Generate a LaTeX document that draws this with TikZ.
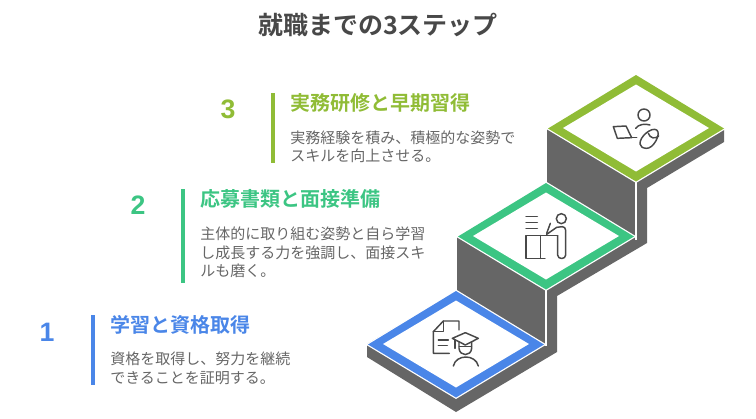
\documentclass[tikz,border=0pt]{standalone}
\usepackage{fontspec}
\setmainfont[BoldFont={Noto Sans CJK JP Bold}]{Noto Sans CJK JP}
\newfontfamily\numfont[BoldFont={Liberation Sans Bold}]{Liberation Sans}
\usepackage{xcolor}
\usetikzlibrary{positioning}

\definecolor{stepblue}{HTML}{4A86E8}
\definecolor{stepgreen}{HTML}{3CC583}
\definecolor{steplime}{HTML}{90BC36}
\definecolor{blockgray}{HTML}{666666}
\definecolor{inkgray}{HTML}{484848}
\definecolor{bodygray}{HTML}{666666}

\begin{document}
\begin{tikzpicture}[x=0.75pt,y=-0.75pt]

\tikzset{headtext/.style={anchor=west, inner sep=0pt, font=\bfseries\fontsize{15}{18}\selectfont},
bodytext/.style={anchor=north west, inner sep=0pt, align=left, text=bodygray, font=\fontsize{11.25}{13.9}\selectfont},
numtext/.style={inner sep=0pt, font=\numfont\bfseries\fontsize{20}{22}\selectfont},
icon/.style={draw=inkgray, line width=1.1pt, line cap=round, line join=round}}

\useasboundingbox (0,0) rectangle (756,418);

\node[inner sep=0pt, text=inkgray, font=\bfseries\fontsize{18.75}{22}\selectfont] (title) at (378,25) {就職までの3ステップ};

%the gray block
\fill[blockgray] (547,129) -- (636,75) -- (724,129) -- (724,142) -- (647,188) -- (647,243) -- (557,296) -- (557,352) -- (456,412) -- (367,357) -- (367,344) -- (457,290) -- (457,237) -- (547,183) -- cycle;

\draw[white, line width=1.1pt] (636,181) -- (636,240);
\draw[white, line width=1.1pt] (546,288) -- (546,346);

%the three plates
\foreach \x/\y/\c in {636/128/steplime, 546/236/stepgreen, 456/344/stepblue} {
  \draw[white, line width=1.9pt, line join=miter] (\x-88,\y+0.5) -- (\x,\y-53) -- (\x+88,\y+0.5) -- (\x,\y+53.5) -- cycle;
  \fill[\c] (\x-88,\y+0.5) -- (\x,\y-53) -- (\x+88,\y+0.5) -- (\x,\y+53.5) -- cycle;
  \fill[white] (\x-73,\y) -- (\x,\y-43.5) -- (\x+73,\y) -- (\x,\y+43.5) -- cycle;
}

%labels, the numbers and the bars
\foreach \n/\d/\x/\y/\c/\bx/\by/\be in {one/1/47/332/stepblue/93/315/385, two/2/138/205/stepgreen/183/189/283, three/3/228/109/steplime/273/93/163} {
  \node[numtext, text=\c] (num\n) at (\x,\y) {\d};
  \draw[\c, line width=3pt] (\bx,\by) -- (\bx,\be);
}

\node[headtext, text=stepblue] (headone) at (110,325) {学習と資格取得};
\node[bodytext, below=13pt of headone.south west, anchor=north west] (bodyone) {資格を取得し、努力を継続\\できることを証明する。};

\node[headtext, text=stepgreen] (headtwo) at (200,199) {応募書類と面接準備};
\node[bodytext, below=13.6pt of headtwo.south west, anchor=north west] (bodytwo) {主体的に取り組む姿勢と自ら学習\\し成長する力を強調し、面接スキ\\ルも磨く。};

\node[headtext, text=steplime] (headthree) at (290,103) {実務研修と早期習得};
\node[bodytext, below=13pt of headthree.south west, anchor=north west] (bodythree) {実務経験を積み、積極的な姿勢で\\スキルを向上させる。};

%icon on the lowest plate
\begin{scope}[shift={(360,285)},x=0.25pt,y=-0.25pt]
  \draw[icon] (297,135) -- (297,108) -- (250,108) -- (220,140) -- (220,205) -- (268,205);
  \draw[icon] (250,108) -- (250,140) -- (220,140);
  \draw[icon] (235,165) -- (265,165);
  \draw[icon] (235,182) -- (262,182);
  \draw[icon] (277,160) -- (316,143) -- (355,160) -- (316,180) -- cycle;
  \draw[icon] (285,165) -- (285,190);
  \draw[icon] (297,170) -- (297,190) .. controls (299,215) and (333,215) .. (335,190) -- (335,170);
  \draw[icon] (298,185) -- (334,185);
  \draw[icon] (280,243) .. controls (288,207) and (347,207) .. (355,243);
\end{scope}

%icon on the middle plate
\begin{scope}[shift={(450,175)},x=0.25pt,y=-0.25pt]
  \draw[icon] (228,125) -- (262,125);
  \draw[icon] (228,143) -- (262,143);
  \draw[icon] (228,160) -- (262,160);
  \draw[icon] (285,250) -- (228,250) -- (228,182) -- (323,182);
  \draw[icon] (272,182) -- (272,250);
  \draw[icon] (334,131) circle [radius=15];
  \draw[icon] (290,175) -- (301,145);
  \draw[icon] (290,178) -- (320,157) -- (337,155) .. controls (343,155) and (347,160) .. (347,166) -- (347,240) .. controls (347,254) and (323,254) .. (323,240) -- (323,182);
\end{scope}

%icon on the top plate
\begin{scope}[shift={(540,70)},x=0.25pt,y=-0.25pt]
  \draw[icon] (312,135) circle [radius=18];
  \draw[icon] (287,175) .. controls (295,163) and (315,160) .. (330,165);
  \draw[icon] (220,170) -- (258,168) -- (275,203) -- (232,205) -- cycle;
  \draw[icon] (275,203) -- (290,203);
  \draw[icon] (300,222) .. controls (298,200) and (335,170) .. (350,180) .. controls (365,190) and (340,238) .. (318,235) .. controls (308,234) and (301,230) .. (300,222);
  \draw[icon] (325,190) .. controls (330,205) and (345,208) .. (356,198);
\end{scope}

\end{tikzpicture}
\end{document}
